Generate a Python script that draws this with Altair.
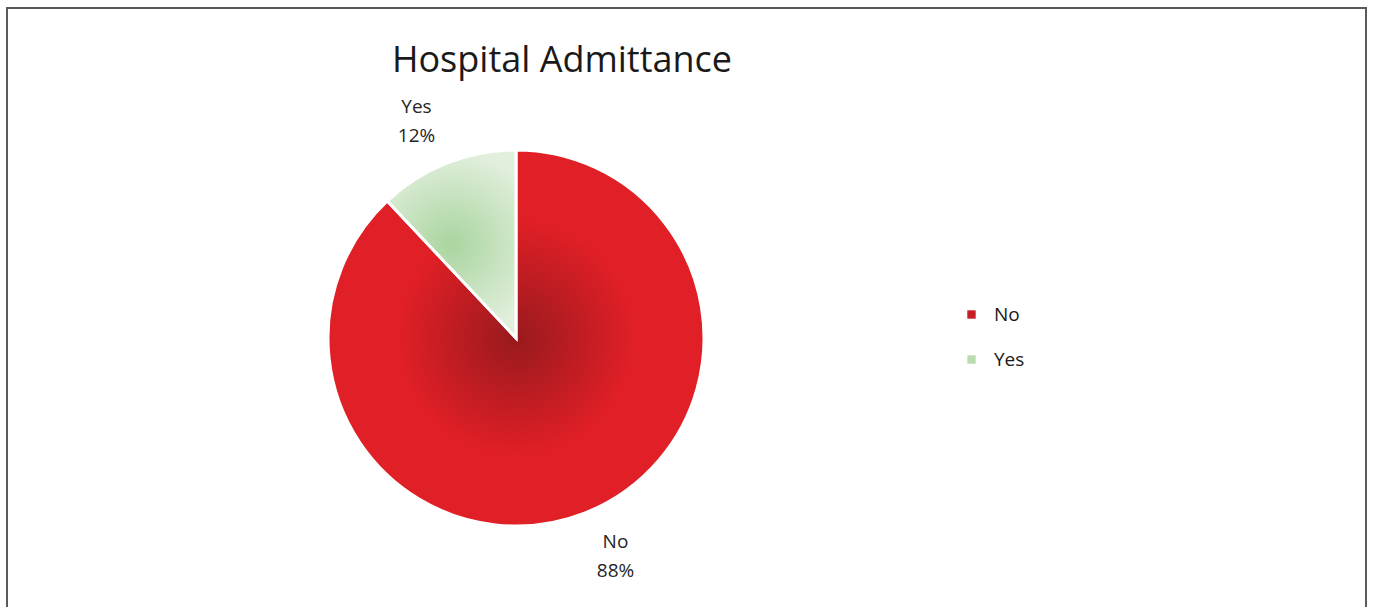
import altair as alt
import pandas as pd

categories = ["No", "Yes"]
values = [88, 12]
pct_labels = ["88%", "12%"]
colors = ["#C81D25", "#B9DCAF"]

df = pd.DataFrame({
    "cat": categories,
    "value": values,
    "label": [f"{c}\n{p}" for c, p in zip(categories, pct_labels)],
    "ord": list(range(len(categories))),
})

FONT = "Open Sans"
W, H = 1018, 660

grad_no = {
    "gradient": "radial",
    "x1": 0.5, "y1": 0.5, "r1": 0,
    "x2": 0.5, "y2": 0.5, "r2": 0.5,
    "stops": [
        {"offset": 0, "color": "#981A1E"},
        {"offset": 0.62, "color": "#E01F26"},
        {"offset": 1, "color": "#E01F26"},
    ],
}
grad_yes = {
    "gradient": "radial",
    "x1": 0.5, "y1": 0.5, "r1": 0,
    "x2": 0.5, "y2": 0.5, "r2": 0.5,
    "stops": [
        {"offset": 0, "color": "#A9D59F"},
        {"offset": 1, "color": "#E2EFDD"},
    ],
}

base = alt.Chart(df)

solid = base.mark_arc(outerRadius=188, stroke="white", strokeWidth=3).encode(
    theta=alt.Theta("value:Q", stack=True),
    order=alt.Order("ord:Q"),
    color=alt.Color(
        "cat:N",
        scale=alt.Scale(domain=categories, range=colors),
        legend=alt.Legend(
            title=None,
            orient="none",
            legendX=955,
            legendY=297,
            symbolType="square",
            symbolSize=70,
            symbolStrokeWidth=0,
            labelFont=FONT,
            labelFontSize=19,
            labelColor="#1a1a1a",
            labelOffset=13,
            rowPadding=25,
        ),
    ),
)

grad = base.mark_arc(outerRadius=188, stroke="white", strokeWidth=3).encode(
    theta=alt.Theta("value:Q", stack=True),
    order=alt.Order("ord:Q"),
    detail="cat:N",
    fill=alt.condition(alt.datum.cat == "No", alt.value(grad_no), alt.value(grad_yes)),
)

labels = base.mark_text(
    radius=239, thetaOffset=6.2308, dy=-13.5, font=FONT, fontSize=19, color="#262626",
    lineBreak="\n", lineHeight=29, align="center", baseline="middle",
).encode(
    theta=alt.Theta("value:Q", stack=True),
    order=alt.Order("ord:Q"),
    text="label:N",
)

title = alt.Chart(pd.DataFrame({"t": ["Hospital Admittance"]})).mark_text(
    font=FONT, fontSize=36, color="#1a1a1a", align="center", baseline="middle",
).encode(text="t:N", x=alt.value(555), y=alt.value(53))

border = alt.Chart(pd.DataFrame({"a": [0]})).mark_rect(
    fill=None, stroke="#5a5a5a", strokeWidth=2
).encode(x=alt.value(0), x2=alt.value(1359), y=alt.value(0), y2=alt.value(640))

chart = alt.layer(border, solid, grad, labels, title).properties(
    width=W, height=H,
    autosize=alt.AutoSizeParams(type="none"),
    padding={"left": 7, "top": 8, "right": 348, "bottom": 0},
).configure_view(stroke=None)

chart.save("out.html", embed_options={"renderer": "svg", "actions": False})
